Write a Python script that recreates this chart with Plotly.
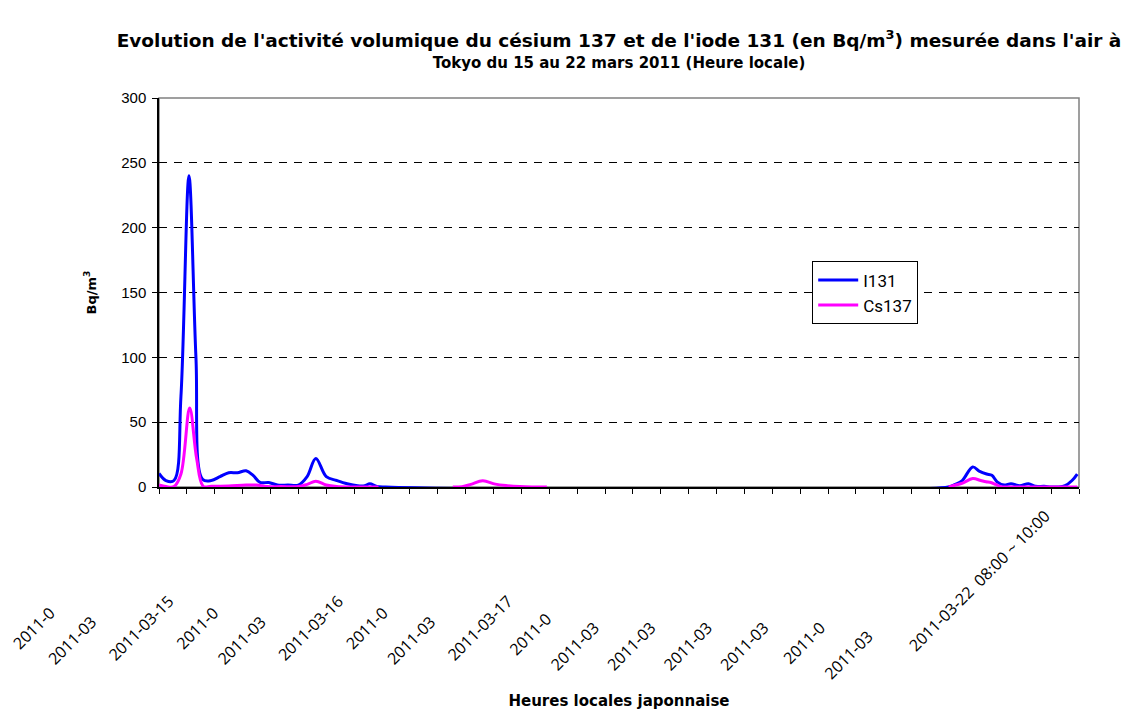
import plotly.graph_objects as go

# ---- data (x = time index along the category axis, y = Bq/m3) ----
i131_x = [0, 2, 4.3, 6.3, 8.6, 10.6, 12.5, 15, 17.5, 20, 22.5, 25, 27, 29, 31.5, 34, 37, 40,
          42.5, 45, 48, 51, 54, 57, 59, 60.5, 62.5, 65,
          226.5, 228.5, 230.5, 233.5, 235.5, 237.5, 239, 240.5, 242.5, 244.5, 247, 249.5,
          251.5, 254, 256, 258, 260, 262, 263.5]
i131_y = [10.5, 5, 5, 70, 240, 100, 6, 5, 8, 11, 11, 12.5, 9, 3.5, 3.5, 1.5, 1.5, 1.5,
          8, 22, 8, 5, 2.5, 1, 1, 2.5, 0.5, 0,
          0, 2, 5, 15.5, 12, 10, 9, 4, 1.5, 2.5, 1, 2.5,
          0.5, 0.5, 0, 0, 1, 5, 10]

cs137_x = [0, 2, 4.3, 6.3, 8.8, 10.8, 12.7, 15, 20, 25, 28, 31, 35, 40, 42.5, 45, 48, 51, 55, 63,
           70,
           84.3, 87, 89.5, 92.9, 96.5, 100, 103.5, 107, 111.3,
           150,
           226.6, 228.6, 230.6, 233.5, 235.8, 237.3, 238.7, 240.1, 241.6, 244, 250, 256, 263.5]
cs137_y = [1.5, 0.3, 0.3, 10, 61, 22, 0.5, 0.5, 0.8, 1.5, 1.5, 0.3, 0.3, 0.3, 2, 4.5, 1.5, 0.3, 0, 0,
           None,
           0, 0.3, 2, 4.8, 2.2, 1, 0.3, 0, 0,
           None,
           0, 1.5, 3, 6.5, 5, 4, 3.5, 2, 0.3, 0, 0, 0, 0]

x_labels = ["2011-0", "2011-03", "2011-03-15", "2011-0", "2011-03", "2011-03-16",
            "2011-0", "2011-03", "2011-03-17", "2011-0", "2011-03", "2011-03",
            "2011-03", "2011-03", "2011-0", "2011-03", "2011-03-22  08:00 ~ 10:00"]

y_ticks = [0, 50, 100, 150, 200, 250, 300]

title_line1 = "Evolution de l'activité volumique du césium 137 et de l'iode 131 (en Bq/m<sup>3</sup>) mesurée dans l'air à"
title_line2 = "Tokyo du 15 au 22 mars 2011 (Heure locale)"

# ---- layout helpers (positions / styles only) ----
X_MAX = 264
PX_PER_UNIT = 920 / X_MAX
label_pos = [max(0.0, (-6 + 56.5 * i) / PX_PER_UNIT) for i in range(len(x_labels))]
label_pad = [37, 40, 33, 37, 40, 33, 37, 40, 33, 39, 42, 42, 42, 42, 42, 45, 4]
tick_text = [t + "\u00a0" * p for t, p in zip(x_labels, label_pad)]
minor_ticks = list(range(0, X_MAX + 1, 8))

fig = go.Figure()
fig.add_trace(go.Scatter(x=i131_x, y=i131_y, name="I131", mode="lines",
                         line=dict(color="#0000FF", width=3, shape="spline", smoothing=1.0)))
fig.add_trace(go.Scatter(x=cs137_x, y=cs137_y, name="Cs137", mode="lines", connectgaps=False,
                         line=dict(color="#FF00FF", width=3, shape="spline", smoothing=1.0)))

fig.update_layout(
    width=1130, height=710,
    margin=dict(l=159, r=51, t=98, b=223, autoexpand=False),
    paper_bgcolor="white", plot_bgcolor="white",
    title=dict(
        text="<span style='font-size:18.5px'>" + title_line1 + "</span><br>"
             "<span style='font-size:15px'>" + title_line2 + "</span>",
        font=dict(family="DejaVu Sans", size=16, color="black", weight="bold"),
        x=0.5, xref="paper", xanchor="center",
        y=0.934, yref="container", yanchor="top"),
    legend=dict(x=0.71, y=0.58, xanchor="left", yanchor="top", itemwidth=40,
                bgcolor="white", bordercolor="black", borderwidth=1,
                font=dict(family="Roboto", size=17, color="black")),
    shapes=[dict(type="rect", xref="paper", yref="paper", x0=0, x1=1, y0=0, y1=1,
                 line=dict(color="#808080", width=1.5), layer="below")],
)

fig.update_xaxes(
    range=[0, X_MAX], tickmode="array", tickvals=label_pos, ticktext=tick_text,
    tickangle=-45, ticks="", showgrid=False, zeroline=False,
    showline=True, linecolor="black", linewidth=1.5,
    tickfont=dict(family="Open Sans", size=16, color="black"),
    minor=dict(tickmode="array", tickvals=minor_ticks, ticks="outside", ticklen=5,
               tickcolor="black", tickwidth=1, showgrid=False),
    title=dict(text="Heures locales japonnaise", standoff=25,
               font=dict(family="DejaVu Sans", size=15, color="black", weight="bold")),
    automargin=False,
)
fig.update_yaxes(
    range=[0, 300], tickmode="array", tickvals=y_ticks,
    ticks="outside", ticklen=5, tickcolor="black", ticklabelstandoff=3,
    showgrid=True, gridcolor="black", griddash="8px,7px", gridwidth=1,
    zeroline=False, showline=True, linecolor="black", linewidth=1.5,
    tickfont=dict(family="Liberation Sans", size=15, color="black"),
    title=dict(text="Bq/m<sup>3</sup>", standoff=22,
               font=dict(family="DejaVu Sans", size=13, color="black", weight="bold")),
    automargin=False,
)

fig.write_html("out.html", config={"displayModeBar": False},
               post_script="document.body.style.margin='0px';")
